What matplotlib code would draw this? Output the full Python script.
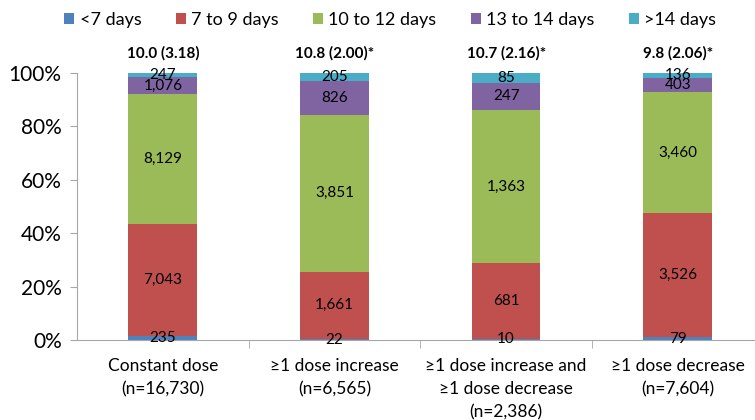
import matplotlib
matplotlib.use("Agg")
import matplotlib.pyplot as plt
import numpy as np

plt.rcParams['font.family'] = ['Lato', 'DejaVu Sans']

categories = ["Constant dose\n(n=16,730)", "≥1 dose increase\n(n=6,565)",
              "≥1 dose increase and\n≥1 dose decrease\n(n=2,386)", "≥1 dose decrease\n(n=7,604)"]
series_names = ["<7 days", "7 to 9 days", "10 to 12 days", "13 to 14 days", ">14 days"]
lt7 = [235, 22, 10, 79]
d7_9 = [7043, 1661, 681, 3526]
d10_12 = [8129, 3851, 1363, 3460]
d13_14 = [1076, 826, 247, 403]
gt14 = [247, 205, 85, 136]
means = ["10.0 (3.18)", "10.8 (2.00)*", "10.7 (2.16)*", "9.8 (2.06)*"]
colors = ["#4F81BD", "#C0504D", "#9BBB59", "#8064A2", "#4BACC6"]

data = np.array([lt7, d7_9, d10_12, d13_14, gt14], dtype=float)
totals = data.sum(axis=0)
pct = data / totals * 100

fig = plt.figure(figsize=(7.55, 4.2), dpi=100)
ax = fig.add_axes([77/755, 1 - 340/420, (755-77)/755, (340-73)/420])
x = np.arange(len(categories))
bottom = np.zeros(len(categories))
handles = []
for i in range(5):
    b = ax.bar(x, pct[i], 0.4, bottom=bottom, color=colors[i], label=series_names[i])
    handles.append(b)
    for j in range(len(categories)):
        ax.text(x[j], bottom[j] + pct[i][j] / 2, f"{int(data[i][j]):,}",
                ha='center', va='center', fontsize=11, color='black')
    bottom += pct[i]

for j in range(len(categories)):
    ax.text(x[j], 104.5, means[j], ha='center', va='bottom', fontsize=11, fontweight='bold')

ax.set_ylim(0, 100)
ax.set_xlim(-0.5, 3.45)
ax.set_yticks(np.arange(0, 101, 20))
ax.set_yticklabels([f"{v}%" for v in range(0, 101, 20)], fontsize=15)
ax.set_xticks(x)
ax.set_xticklabels(categories, fontsize=12.5, va='top', linespacing=1.55)
ax.tick_params(axis='x', length=0, pad=13)
ax.tick_params(axis='y', length=5, color='#A6A6A6', pad=6)
ax.set_xticks(np.arange(0.5, 3.5, 1), minor=True)
ax.tick_params(axis='x', which='minor', length=6, color='#A6A6A6')
for s in ['top', 'right']:
    ax.spines[s].set_visible(False)
for s in ['left', 'bottom']:
    ax.spines[s].set_color('#A6A6A6')

fig.legend(handles=handles, labels=series_names, loc='center', bbox_to_anchor=(0.517, 1 - 20/420),
           ncol=5, frameon=False, fontsize=13, handlelength=0.55, handleheight=0.55,
           handletextpad=0.3, columnspacing=1.9)

fig.savefig("out.png", dpi=100)
